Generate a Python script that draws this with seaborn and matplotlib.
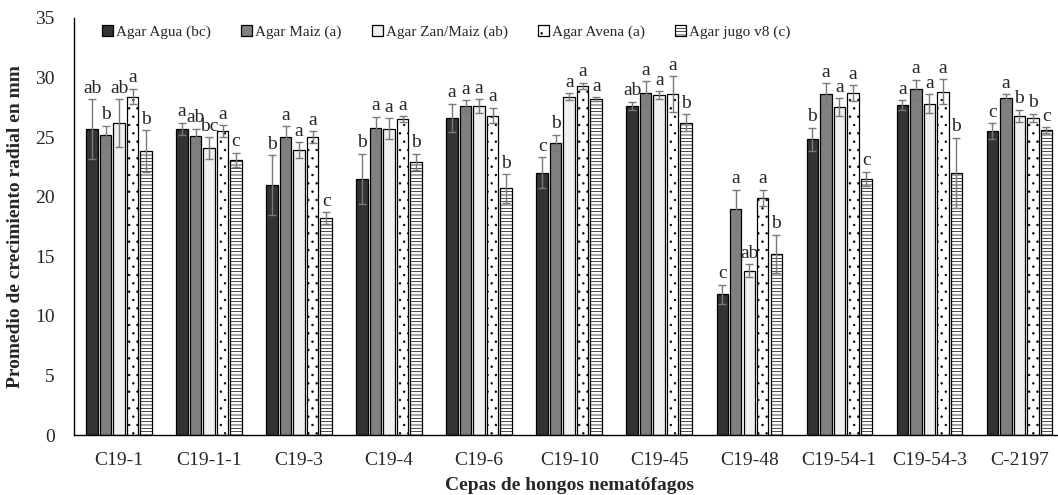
import pandas as pd
import matplotlib.pyplot as plt
import seaborn as sns

# -----------------------------
# Data
# -----------------------------
cepas = ['C19-1', 'C19-1-1', 'C19-3', 'C19-4', 'C19-6', 'C19-10',
         'C19-45', 'C19-48', 'C19-54-1', 'C19-54-3', 'C-2197']
medios = ['Agar Agua (bc)', 'Agar Maiz (a)', 'Agar Zan/Maiz (ab)',
          'Agar Avena (a)', 'Agar jugo v8 (c)']

agua = [25.7, 25.7, 21.0, 21.5, 26.6, 22.0, 27.6, 11.8, 24.8, 27.7, 25.5]
maiz = [25.2, 25.1, 25.0, 25.8, 27.6, 24.5, 28.7, 19.0, 28.6, 29.0, 28.3]
zan_maiz = [26.2, 24.1, 23.9, 25.7, 27.6, 28.4, 28.5, 13.8, 27.5, 27.8, 26.8]
avena = [28.4, 25.5, 25.0, 26.5, 26.8, 29.3, 28.6, 19.9, 28.7, 28.8, 26.6]
v8 = [23.8, 23.1, 18.2, 22.9, 20.7, 28.2, 26.2, 15.2, 21.5, 22.0, 25.6]

err_agua = [2.5, 0.5, 2.5, 2.1, 1.2, 1.3, 0.35, 0.8, 1.0, 0.4, 0.65]
err_maiz = [0.75, 0.6, 0.9, 0.9, 0.5, 0.7, 1.0, 1.6, 0.9, 0.8, 0.3]
err_zan_maiz = [2.0, 0.9, 0.65, 0.9, 0.6, 0.3, 0.35, 0.55, 0.75, 0.8, 0.5]
err_avena = [0.65, 0.5, 0.5, 0.25, 0.65, 0.25, 1.5, 0.7, 0.65, 1.05, 0.35]
err_v8 = [1.75, 0.6, 0.5, 0.7, 1.2, 0.15, 0.7, 1.6, 0.6, 2.95, 0.25]

let_agua = ['ab', 'a', 'b', 'b', 'a', 'c', 'ab', 'c', 'b', 'a', 'c']
let_maiz = ['b', 'ab', 'a', 'a', 'a', 'b', 'a', 'a', 'a', 'a', 'a']
let_zan_maiz = ['ab', 'bc', 'a', 'a', 'a', 'a', 'a', 'ab', 'a', 'a', 'b']
let_avena = ['a', 'a', 'a', 'a', 'a', 'a', 'a', 'a', 'a', 'a', 'b']
let_v8 = ['b', 'c', 'c', 'b', 'b', 'a', 'b', 'b', 'c', 'b', 'c']

valores = [agua, maiz, zan_maiz, avena, v8]
errores = [err_agua, err_maiz, err_zan_maiz, err_avena, err_v8]
letras = [let_agua, let_maiz, let_zan_maiz, let_avena, let_v8]

df = pd.DataFrame({
    'Cepa': cepas * len(medios),
    'Medio': [m for m in medios for _ in cepas],
    'Crecimiento': [v for serie in valores for v in serie],
})

# -----------------------------
# Style
# -----------------------------
sns.set_theme(style="white")
plt.rcParams['font.family'] = ['Liberation Serif', 'DejaVu Serif']
plt.rcParams['hatch.linewidth'] = 0.5

colores = ['#333333', '#808080', '#f0f0f0', '#ffffff', '#ffffff']
tramas = ['', '', '', '..', '-----']
color_trama = ['black', 'black', 'black', '#777777', 'black']

fig = plt.figure(figsize=(10.58, 4.95), dpi=100)
ax = fig.add_axes([0.070, 0.121, 0.936, 0.843])

sns.barplot(data=df, x='Cepa', y='Crecimiento', hue='Medio',
            order=cepas, hue_order=medios, palette=colores,
            width=0.75, gap=0.15, edgecolor='black', linewidth=0.9,
            saturation=1, errorbar=None, legend=False, ax=ax)

# hatches, error bars and letters
for cont, trama, ct, err, lets in zip(ax.containers, tramas, color_trama,
                                      errores, letras):
    xs, hs = [], []
    for patch in cont:
        patch.set_hatch(trama)
        if hasattr(patch, 'set_hatchcolor'):
            patch.set_hatchcolor(ct)
        xs.append(patch.get_x() + patch.get_width() / 2)
        hs.append(patch.get_height())
    ax.errorbar(xs, hs, yerr=err, fmt='none', ecolor='#7a7a7a',
                elinewidth=1, capsize=3, capthick=1)
    for x, h, e, t in zip(xs, hs, err, lets):
        ax.text(x, h + e + 0.2, t, ha='center', va='bottom', fontsize=14)

ax.legend(ax.containers, medios, ncol=5, frameon=False, fontsize=11,
          loc='center left', bbox_to_anchor=(0.022, 0.966),
          handlelength=0.7, handleheight=0.7, handletextpad=0.2,
          columnspacing=2.0, borderaxespad=0)

ax.set_ylim(0, 35)
ax.set_xlim(-0.5, len(cepas) - 0.5)
ax.set_yticks(range(0, 36, 5))
ax.tick_params(axis='x', length=0, pad=12, labelsize=14)
ax.tick_params(axis='y', length=0, pad=14, labelsize=14)
ax.set_xlabel('Cepas de hongos nematófagos', fontsize=14,
              fontweight='bold', labelpad=6)
ax.set_ylabel('Promedio de crecimiento radial en mm', fontsize=14,
              fontweight='bold', labelpad=8)

sns.despine(ax=ax)
for s in ['left', 'bottom']:
    ax.spines[s].set_color('black')
    ax.spines[s].set_linewidth(1.0)

fig.savefig("out.png", dpi=100)
